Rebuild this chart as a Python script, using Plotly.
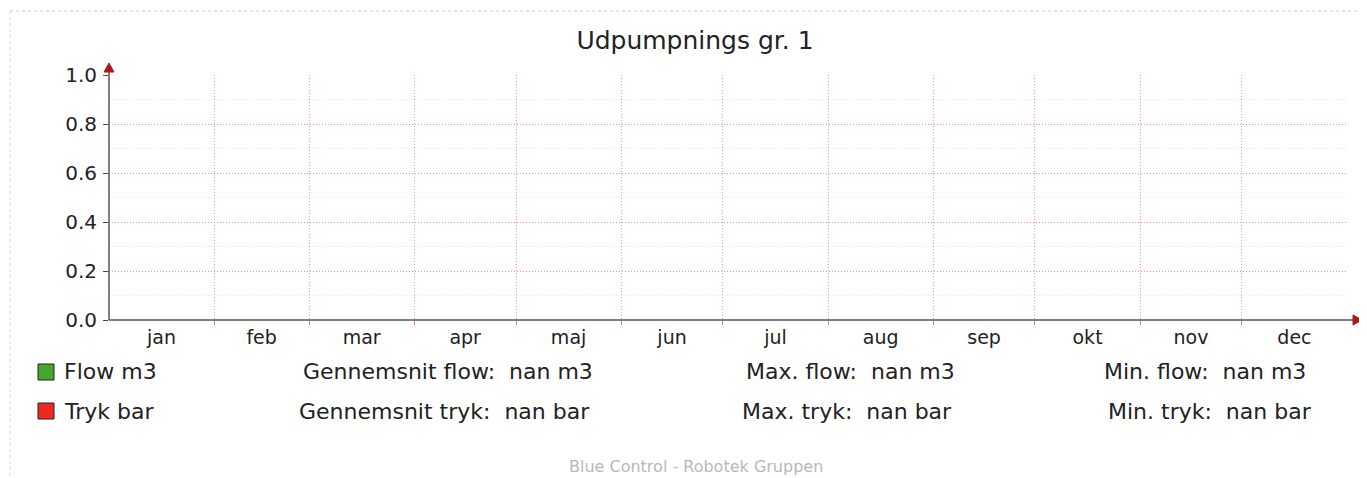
import plotly.graph_objects as go
import pandas as pd

# ---------------- data ----------------
title = "Udpumpnings gr. 1"
month_labels = ["jan", "feb", "mar", "apr", "maj", "jun", "jul", "aug", "sep", "okt", "nov", "dec"]
month_starts = ["2013-01-01", "2013-02-01", "2013-03-01", "2013-04-01", "2013-05-01", "2013-06-01",
                "2013-07-01", "2013-08-01", "2013-09-01", "2013-10-01", "2013-11-01", "2013-12-01"]
year_end = "2014-01-01"
flow_m3 = [None, None, None, None, None, None, None, None, None, None, None, None]
tryk_bar = [None, None, None, None, None, None, None, None, None, None, None, None]
y_ticks = [0.0, 0.2, 0.4, 0.6, 0.8, 1.0]
series_names = ["Flow m3", "Tryk bar"]
series_colors = ["#45a72c", "#ee2a1e"]
avg_labels = ["Gennemsnit flow:  nan m3", "Gennemsnit tryk:  nan bar"]
max_labels = ["Max. flow:  nan m3", "Max. tryk:  nan bar"]
min_labels = ["Min. flow:  nan m3", "Min. tryk:  nan bar"]
footer = "Blue Control - Robotek Gruppen"

# ---------------- layout constants (reference pixel coords) ----------------
OFF = 8                      # page body margin
PAGE_W, PAGE_H = 1367, 478
W, H = PAGE_W - OFF, PAGE_H - OFF
X0, X1, Y0, Y1 = 109, 1347, 75, 320   # plot area in page pixels
ML, MR, MT, MB = X0 - OFF, PAGE_W - X1, Y0 - OFF, PAGE_H - Y1
PW, PH = X1 - X0, Y1 - Y0
FONT = "DejaVu Sans"
TXT = "#222222"


def px(x):
    return (x - X0) / PW


def py(y):
    return (Y1 - y) / PH


starts = pd.to_datetime(month_starts)
ends = pd.to_datetime(month_starts[1:] + [year_end])
mids = [s + (e - s) / 2 for s, e in zip(starts, ends)]

fig = go.Figure()
fig.add_trace(go.Scatter(x=starts, y=flow_m3, name=series_names[0], mode="lines",
                         line=dict(color=series_colors[0]), showlegend=False))
fig.add_trace(go.Scatter(x=starts, y=tryk_bar, name=series_names[1], mode="lines",
                         line=dict(color=series_colors[1]), showlegend=False))

fig.update_layout(
    width=W, height=H,
    margin=dict(l=ML, r=MR, t=MT, b=MB),
    paper_bgcolor="white", plot_bgcolor="white",
    font=dict(family=FONT, size=19, color=TXT),
    showlegend=False,
    title=dict(text=title, xref="container", x=(695 - OFF) / W, xanchor="center",
               yref="container", y=1 - (40 - OFF) / H, yanchor="middle",
               font=dict(family=FONT, size=25, color=TXT)),
)

GRID_RED = "rgba(228,90,100,0.6)"
DOTS = "1px,2px"
fig.update_xaxes(
    type="date", range=[month_starts[0], year_end],
    tickmode="array", tickvals=mids, ticktext=month_labels,
    showgrid=False, ticks="", showline=False, zeroline=False,
    ticklabelstandoff=4,
    tickfont=dict(family=FONT, size=19, color=TXT),
    minor=dict(tickmode="array", tickvals=list(starts[1:]), showgrid=True,
               gridcolor=GRID_RED, griddash=DOTS, gridwidth=1,
               ticks="outside", ticklen=4, tickcolor="rgba(225,80,80,0.8)", tickwidth=1),
)
fig.update_yaxes(
    range=[0, 1], tickmode="array", tickvals=y_ticks, tickformat=".1f",
    showgrid=True, gridcolor=GRID_RED, griddash=DOTS, gridwidth=1,
    ticks="outside", ticklen=5, tickcolor="#444444", showline=False, zeroline=False,
    ticklabelstandoff=2,
    tickfont=dict(family=FONT, size=20, color=TXT),
    minor=dict(dtick=0.1, showgrid=True, gridcolor="rgba(175,175,175,0.35)", griddash=DOTS,
               gridwidth=1),
)

shapes = []
# axis lines
shapes.append(dict(type="line", xref="paper", yref="paper", x0=0, x1=px(1356), y0=0, y1=0,
                   line=dict(color="#555555", width=1.5), layer="above"))
shapes.append(dict(type="line", xref="paper", yref="paper", x0=0, x1=0, y0=0, y1=py(66),
                   line=dict(color="#555555", width=1.5), layer="above"))
# arrow heads
shapes.append(dict(type="path", xref="paper", yref="paper", xsizemode="pixel", ysizemode="pixel",
                   xanchor=px(1353), yanchor=0, path="M 0 -5 L 9 0 L 0 5 Z",
                   fillcolor="#b01818", line=dict(color="#b01818", width=1), layer="above"))
shapes.append(dict(type="path", xref="paper", yref="paper", xsizemode="pixel", ysizemode="pixel",
                   xanchor=0, yanchor=py(72), path="M -5 0 L 0 9 L 5 0 Z",
                   fillcolor="#b01818", line=dict(color="#b01818", width=1), layer="above"))
# frame
shapes.append(dict(type="line", xref="paper", yref="paper", x0=px(10), x1=px(1367), y0=py(11), y1=py(11),
                   line=dict(color="#dcdcdc", width=1.5, dash="dot")))
shapes.append(dict(type="line", xref="paper", yref="paper", x0=px(10), x1=px(10), y0=py(11), y1=py(478),
                   line=dict(color="#e3e3e3", width=1.5, dash="dot")))

annotations = []
row_y = [372, 411]
for i in range(2):
    shapes.append(dict(type="rect", xref="paper", yref="paper", x0=px(38), x1=px(54),
                       y0=py(row_y[i] - 8), y1=py(row_y[i] + 8),
                       fillcolor=series_colors[i], line=dict(color="#222222", width=1)))
    for text, x in [(series_names[i], 62), (avg_labels[i], [301, 297][i]),
                    (max_labels[i], [744, 740][i]), (min_labels[i], [1102, 1106][i])]:
        annotations.append(dict(text=text.replace("  ", "&nbsp; "), xref="paper", yref="paper",
                                x=px(x), y=py(row_y[i]), xanchor="left", yanchor="middle",
                                showarrow=False, font=dict(family=FONT, size=22, color=TXT)))

annotations.append(dict(text=footer, xref="paper", yref="paper", x=px(696), y=py(466),
                        xanchor="center", yanchor="middle", showarrow=False,
                        font=dict(family=FONT, size=16, color="#b8b8b8")))

fig.update_layout(shapes=shapes, annotations=annotations)
fig.write_html("out.html")
